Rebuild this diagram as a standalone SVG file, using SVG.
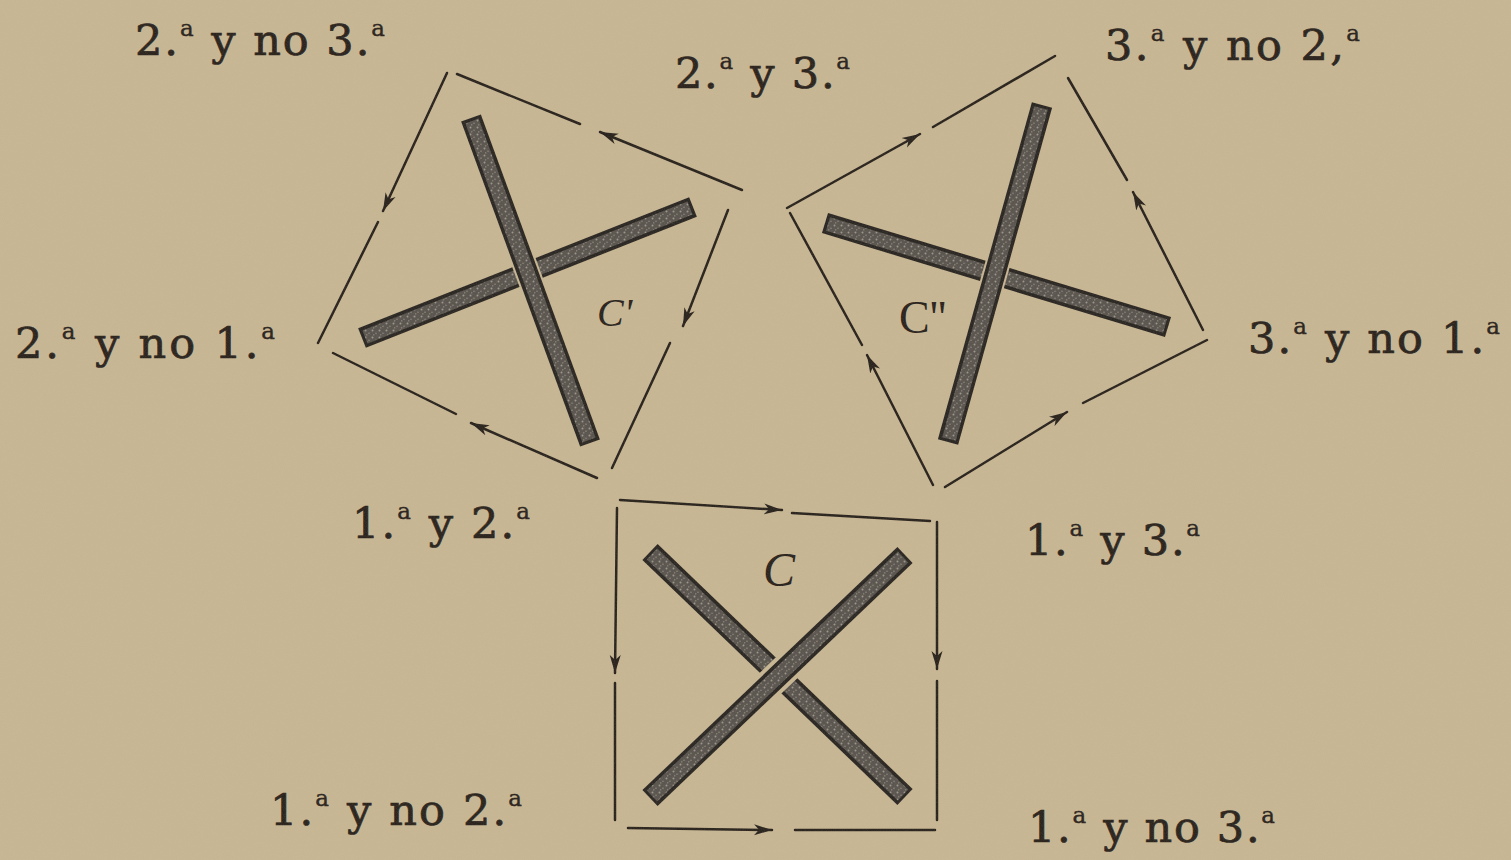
<svg xmlns="http://www.w3.org/2000/svg" width="1511" height="860" viewBox="0 0 1511 860">
<style>
.lbl{font-family:"DejaVu Serif","Liberation Serif",serif;font-size:43px;fill:#2b241d;stroke:#2b241d;stroke-width:0.7}
.sup{font-size:23px;stroke-width:0.4}
.fig{font-family:"Liberation Serif","DejaVu Serif",serif;fill:#2b241d}
.edge{stroke:#2a241e;stroke-width:2.5;fill:none;stroke-linecap:round}
.bar-out{stroke:#2b2723;stroke-linecap:butt}
.bar-in{stroke:url(#grain);stroke-linecap:butt}
.gap{stroke:#c8b794;stroke-linecap:butt}
</style>
<defs>
<marker id="ah" markerUnits="userSpaceOnUse" markerWidth="20" markerHeight="12" refX="18" refY="6" orient="auto">
<path d="M0,0.5 L18,6 L0,11.5 L5,6 z" fill="#2a241e"/>
</marker>
<pattern id="grain" width="7" height="7" patternUnits="userSpaceOnUse">
<rect width="7" height="7" fill="#5a554f"/>
<circle cx="1.5" cy="1.5" r="1" fill="#9c968d"/>
<circle cx="5" cy="4.2" r="0.8" fill="#8b857c"/>
<circle cx="2.8" cy="5.8" r="0.6" fill="#a9a398"/>
</pattern>
<filter id="paper" x="0" y="0" width="100%" height="100%">
<feTurbulence type="fractalNoise" baseFrequency="0.9" numOctaves="2" seed="7"/>
<feColorMatrix type="matrix" values="0 0 0 0 0.45  0 0 0 0 0.38  0 0 0 0 0.28  0.7 0 0 0 -0.25"/>
</filter>
</defs>
<rect width="1511" height="860" fill="#c8b794"/>

<g id="cross-C1">
<line class="bar-out" x1="362" y1="338" x2="693" y2="207" stroke-width="21"/>
<line class="bar-in" x1="365" y1="337" x2="690" y2="208" stroke-width="14"/>
<line class="gap" x1="471" y1="118" x2="590" y2="443" stroke-width="25"/>
<line class="bar-out" x1="471" y1="118" x2="590" y2="443" stroke-width="21"/>
<line class="bar-in" x1="472" y1="121" x2="589" y2="440" stroke-width="14"/>
<text class="fig" x="597" y="326" font-size="40" font-style="italic">C'</text>
</g>

<g id="cross-C2">
<line class="bar-out" x1="825" y1="223" x2="1168" y2="327" stroke-width="21"/>
<line class="bar-in" x1="828" y1="224" x2="1165" y2="326" stroke-width="14"/>
<line class="gap" x1="1042" y1="105" x2="948" y2="442" stroke-width="25"/>
<line class="bar-out" x1="1042" y1="105" x2="948" y2="442" stroke-width="21"/>
<line class="bar-in" x1="1041" y1="108" x2="949" y2="439" stroke-width="14"/>
<text class="fig" x="899" y="333" font-size="46">C''</text>
</g>

<g id="cross-C">
<line class="bar-out" x1="650" y1="552" x2="905" y2="797" stroke-width="22"/>
<line class="bar-in" x1="652" y1="554" x2="903" y2="795" stroke-width="15"/>
<line class="gap" x1="905" y1="555" x2="650" y2="798" stroke-width="30"/>
<line class="bar-out" x1="905" y1="555" x2="650" y2="798" stroke-width="22"/>
<line class="bar-in" x1="903" y1="557" x2="652" y2="796" stroke-width="15"/>
<text class="fig" x="763" y="586" font-size="48" font-style="italic">C</text>
</g>

<g id="connectors">
<line class="edge" x1="742" y1="190" x2="600" y2="132" marker-end="url(#ah)"/>
<line class="edge" x1="580" y1="124" x2="457" y2="74"/>
<line class="edge" x1="447" y1="73" x2="383" y2="211" marker-end="url(#ah)"/>
<line class="edge" x1="378" y1="222" x2="318" y2="343"/>
<line class="edge" x1="728" y1="210" x2="683" y2="326" marker-end="url(#ah)"/>
<line class="edge" x1="670" y1="343" x2="612" y2="468"/>
<line class="edge" x1="597" y1="478" x2="471" y2="423" marker-end="url(#ah)"/>
<line class="edge" x1="456" y1="414" x2="333" y2="353"/>
<line class="edge" x1="787" y1="208" x2="920" y2="134" marker-end="url(#ah)"/>
<line class="edge" x1="933" y1="127" x2="1055" y2="56"/>
<line class="edge" x1="1203" y1="330" x2="1133" y2="192" marker-end="url(#ah)"/>
<line class="edge" x1="1127" y1="180" x2="1068" y2="78"/>
<line class="edge" x1="945" y1="487" x2="1067" y2="412" marker-end="url(#ah)"/>
<line class="edge" x1="1083" y1="403" x2="1207" y2="340"/>
<line class="edge" x1="933" y1="485" x2="867" y2="355" marker-end="url(#ah)"/>
<line class="edge" x1="862" y1="345" x2="790" y2="213"/>
<line class="edge" x1="620" y1="500" x2="782" y2="510" marker-end="url(#ah)"/>
<line class="edge" x1="792" y1="513" x2="930" y2="521"/>
<line class="edge" x1="617" y1="508" x2="615" y2="673" marker-end="url(#ah)"/>
<line class="edge" x1="615" y1="683" x2="615" y2="820"/>
<line class="edge" x1="937" y1="522" x2="937" y2="669" marker-end="url(#ah)"/>
<line class="edge" x1="937" y1="681" x2="937" y2="820"/>
<line class="edge" x1="628" y1="828" x2="772" y2="830" marker-end="url(#ah)"/>
<line class="edge" x1="795" y1="830" x2="935" y2="830"/>
</g>

<g id="label-2y-no-3">
<text class="lbl" x="135" y="55" textLength="250">2.<tspan class="sup" dy="-19">a</tspan><tspan dy="19"> y no 3.</tspan><tspan class="sup" dy="-19">a</tspan></text>
</g>
<g id="label-2y3">
<text class="lbl" x="675" y="88" textLength="175">2.<tspan class="sup" dy="-19">a</tspan><tspan dy="19"> y 3.</tspan><tspan class="sup" dy="-19">a</tspan></text>
</g>
<g id="label-3y-no-2">
<text class="lbl" x="1105" y="60" textLength="255">3.<tspan class="sup" dy="-19">a</tspan><tspan dy="19"> y no 2,</tspan><tspan class="sup" dy="-19">a</tspan></text>
</g>
<g id="label-2y-no-1">
<text class="lbl" x="15" y="358" textLength="260">2.<tspan class="sup" dy="-19">a</tspan><tspan dy="19"> y no 1.</tspan><tspan class="sup" dy="-19">a</tspan></text>
</g>
<g id="label-3y-no-1">
<text class="lbl" x="1248" y="353" textLength="252">3.<tspan class="sup" dy="-19">a</tspan><tspan dy="19"> y no 1.</tspan><tspan class="sup" dy="-19">a</tspan></text>
</g>
<g id="label-1y2">
<text class="lbl" x="352" y="538" textLength="178">1.<tspan class="sup" dy="-19">a</tspan><tspan dy="19"> y 2.</tspan><tspan class="sup" dy="-19">a</tspan></text>
</g>
<g id="label-1y3">
<text class="lbl" x="1025" y="555" textLength="175">1.<tspan class="sup" dy="-19">a</tspan><tspan dy="19"> y 3.</tspan><tspan class="sup" dy="-19">a</tspan></text>
</g>
<g id="label-1y-no-2">
<text class="lbl" x="270" y="825" textLength="252">1.<tspan class="sup" dy="-19">a</tspan><tspan dy="19"> y no 2.</tspan><tspan class="sup" dy="-19">a</tspan></text>
</g>
<g id="label-1y-no-3">
<text class="lbl" x="1028" y="842" textLength="247">1.<tspan class="sup" dy="-19">a</tspan><tspan dy="19"> y no 3.</tspan><tspan class="sup" dy="-19">a</tspan></text>
</g>

<rect width="1511" height="860" filter="url(#paper)" opacity="0.35" pointer-events="none"/>
</svg>
